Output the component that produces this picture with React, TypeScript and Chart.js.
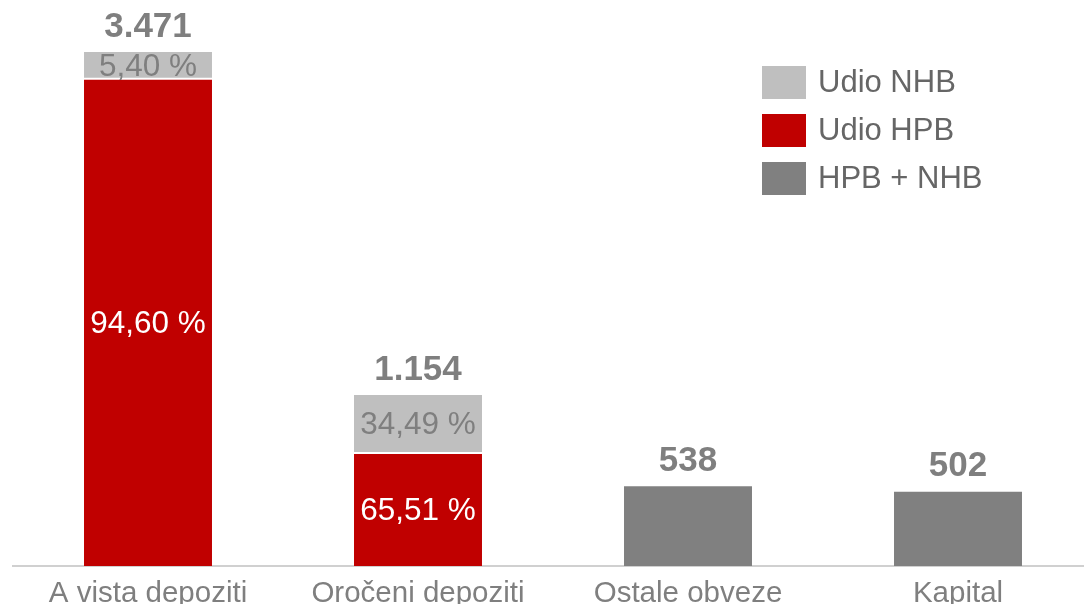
import { useEffect, useRef } from "react";
import { Chart, registerables } from "chart.js";

Chart.register(...registerables);

const categories = ["A vista depoziti", "Oročeni depoziti", "Ostale obveze", "Kapital"];
const hpbValues = [3283.6, 756.0, null, null];
const nhbValues = [187.4, 398.0, null, null];
const combinedValues = [null, null, 538, 502];
const totalLabels = ["3.471", "1.154", "538", "502"];
const hpbLabels = ["94,60 %", "65,51 %", null, null];
const nhbLabels = ["5,40 %", "34,49 %", null, null];
const seriesNames = ["Udio HPB", "Udio NHB", "HPB + NHB"];
const seriesColors = ["#c00000", "#bfbfbf", "#808080"];
const legendOrder = [1, 0, 2];
const yMax = 3822;

const FONT = "'Liberation Sans', Arial, sans-serif";

const labelPlugin = {
  id: "segmentLabels",
  afterDatasetsDraw(chart: any) {
    const ctx = chart.ctx;
    ctx.save();
    ctx.textAlign = "center";
    ctx.textBaseline = "middle";
    const segLabels = [hpbLabels, nhbLabels, null];
    const segColors = ["#ffffff", "#7f7f7f", null];
    const tops: number[] = categories.map(() => Infinity);
    chart.data.datasets.forEach((ds: any, di: number) => {
      const meta = chart.getDatasetMeta(di);
      meta.data.forEach((el: any, i: number) => {
        if (ds.data[i] == null) return;
        tops[i] = Math.min(tops[i], el.y);
        const labs = segLabels[di];
        if (labs && labs[i]) {
          ctx.font = `31.5px ${FONT}`;
          ctx.fillStyle = segColors[di] as string;
          ctx.fillText(labs[i], el.x, (el.y + el.base) / 2 + 1);
        }
      });
    });
    const meta0 = chart.getDatasetMeta(0);
    ctx.font = `bold 35px ${FONT}`;
    ctx.fillStyle = "#7f7f7f";
    categories.forEach((_, i) => {
      const x = meta0.data[i].x;
      if (isFinite(tops[i])) ctx.fillText(totalLabels[i], x, tops[i] - 25);
    });

    // category labels
    const xScale = chart.scales.x;
    ctx.font = `29.5px ${FONT}`;
    ctx.fillStyle = "#7f7f7f";
    ctx.textBaseline = "alphabetic";
    const labels = chart.data.labels as string[];
    labels.forEach((lab, i) => {
      const x = xScale.getPixelForTick(i);
      ctx.fillText(lab, x, 601.5);
    });
    ctx.restore();
  },
  afterDraw(chart: any) {
    const ctx = chart.ctx;
    ctx.save();
    const left = 762;
    const top = 66;
    const boxW = 44;
    const boxH = 33;
    const rowH = 48;
    ctx.textAlign = "left";
    ctx.textBaseline = "middle";
    ctx.font = `31px ${FONT}`;
    legendOrder.forEach((di, r) => {
      const ds = chart.data.datasets[di];
      const y = top + r * rowH;
      ctx.fillStyle = ds.backgroundColor;
      ctx.fillRect(left, y, boxW, boxH);
      ctx.fillStyle = "#666666";
      ctx.fillText(ds.label, left + boxW + 12, y + boxH / 2 + 1);
    });
    ctx.restore();
  },
};

export default function App() {
  const ref = useRef<HTMLCanvasElement>(null);
  useEffect(() => {
    if (!ref.current) return;
    const chart = new Chart(ref.current, {
      type: "bar",
      data: {
        labels: categories,
        datasets: [
          {
            label: seriesNames[0],
            data: hpbValues,
            backgroundColor: seriesColors[0],
            borderWidth: 0,
          },
          {
            label: seriesNames[1],
            data: nhbValues,
            backgroundColor: seriesColors[1],
            borderColor: "#ffffff",
            borderWidth: { top: 0, left: 0, right: 0, bottom: 2 },
            borderSkipped: false,
          },
          {
            label: seriesNames[2],
            data: combinedValues,
            backgroundColor: seriesColors[2],
            borderWidth: 0,
          },
        ] as any,
      },
      options: {
        animation: false,
        responsive: false,
        maintainAspectRatio: false,
        layout: { padding: { left: 13, right: 7, top: 0, bottom: 38 } },
        datasets: { bar: { barPercentage: 0.474, categoryPercentage: 1 } },
        plugins: {
          legend: { display: false },
          tooltip: { enabled: false },
        },
        scales: {
          x: {
            stacked: true,
            grid: { display: false, drawTicks: false },
            border: { display: true, color: "#d0d0d0", width: 2 },
            ticks: { display: false },
          },
          y: {
            stacked: true,
            display: false,
            min: 0,
            max: yMax,
          },
        },
      },
      plugins: [labelPlugin],
    });
    return () => chart.destroy();
  }, []);
  return (
    <div style={{ position: "fixed", left: 0, top: 0, width: 1084, height: 604, overflow: "hidden", background: "#fff" }}>
      <canvas ref={ref} width={1100} height={604} style={{ width: 1100, height: 604, display: "block" }} />
    </div>
  );
}
